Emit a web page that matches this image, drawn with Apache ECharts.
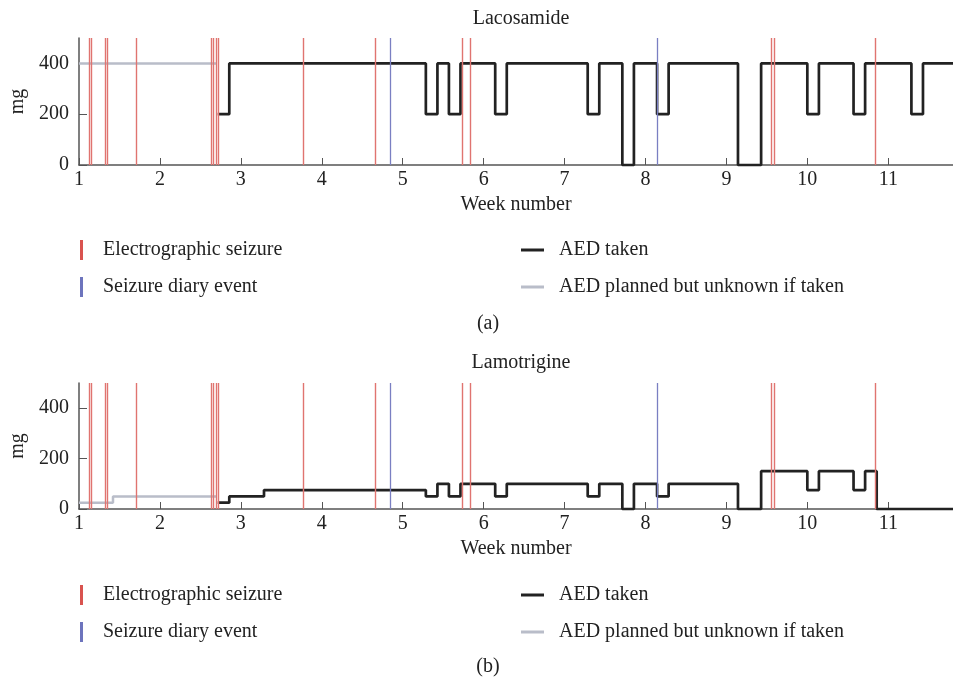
<!DOCTYPE html>
<html>
<head>
<meta charset="utf-8">
<script src="https://cdn.jsdelivr.net/npm/echarts@6/dist/echarts.min.js"></script>
<style>
  html, body { margin: 0; padding: 0; background: #fff; }
  #chart { width: 953px; height: 684px; }
</style>
</head>
<body>
<div id="chart"></div>
<script>
// week ticks / dose ticks
const weekTicks = [1, 2, 3, 4, 5, 6, 7, 8, 9, 10, 11];
const doseTicks = [0, 200, 400];

// event markers (week number), same in both panels
const seizureWeeks = [1.127, 1.152, 1.32, 1.346, 1.71, 2.638, 2.663, 2.69, 2.716, 3.77, 4.66, 5.737, 5.836, 9.56, 9.585, 10.84];
const diaryWeeks = [4.848, 8.14];

// Lacosamide: change points and dose held from that point
const lacTakenWeeks = [2.714, 2.857, 5.286, 5.429, 5.571, 5.714, 6.143, 6.286, 7.286, 7.429, 7.714, 7.857, 8.143, 8.286, 9.143, 9.429, 10.0, 10.143, 10.571, 10.714, 11.286, 11.429, 11.8];
const lacTakenDose  = [200,   400,   200,   400,   200,   400,   200,   400,   200,   400,   0,     400,   200,   400,   0,     400,   200,  400,    200,    400,    200,    400,    400];
const lacPlannedWeeks = [1, 2.7];
const lacPlannedDose  = [400, 400];

// Lamotrigine
const lamTakenWeeks = [2.714, 2.857, 3.286, 5.286, 5.429, 5.571, 5.714, 6.143, 6.286, 7.286, 7.429, 7.714, 7.857, 8.143, 8.286, 9.143, 9.429, 10.0, 10.143, 10.571, 10.714, 10.857, 11.8];
const lamTakenDose  = [25,    50,    75,    50,    100,   50,    100,   50,    100,   50,    100,   0,     100,   50,    100,   0,     150,   75,   150,    75,     150,    0,      0];
const lamPlannedWeeks = [1, 1.42, 2.7];
const lamPlannedDose  = [25, 50, 50];

const FONT = 'Liberation Serif';
const TXT = '#222';
const RED = '#e07470';
const BLUE = '#7a7fc2';
const BLACK = '#222';
const GREY = '#b9bdc9';

const zip = (xs, ys) => xs.map((x, i) => [x, ys[i]]);

const panels = [
  { top: 38, height: 127, taken: zip(lacTakenWeeks, lacTakenDose), planned: zip(lacPlannedWeeks, lacPlannedDose) },
  { top: 383, height: 126, taken: zip(lamTakenWeeks, lamTakenDose), planned: zip(lamPlannedWeeks, lamPlannedDose) }
];

const grid = panels.map(p => ({ left: 79, right: 0, top: p.top, height: p.height }));

const xAxis = panels.map((p, i) => ({
  type: 'value', gridIndex: i, min: 1, max: 11.8,
  name: 'Week number', nameLocation: 'middle', nameGap: 30,
  nameTextStyle: { fontFamily: FONT, fontSize: 20, color: TXT },
  axisLine: { lineStyle: { color: '#555', width: 1.5 } },
  axisTick: { inside: true, length: 7, lineStyle: { color: '#555' }, customValues: weekTicks },
  axisLabel: { fontFamily: FONT, fontSize: 20, color: TXT, margin: 5, customValues: weekTicks },
  splitLine: { show: false }
}));

const yAxis = panels.map((p, i) => ({
  type: 'value', gridIndex: i, min: 0, max: 500,
  name: 'mg', nameLocation: 'middle', nameGap: 50,
  nameTextStyle: { fontFamily: FONT, fontSize: 20, color: TXT },
  axisLine: { show: true, lineStyle: { color: '#555', width: 1.5 } },
  axisTick: { inside: true, length: 8, lineStyle: { color: '#555' }, customValues: doseTicks },
  axisLabel: { fontFamily: FONT, fontSize: 20, color: TXT, margin: 10, customValues: doseTicks },
  splitLine: { show: false }
}));

const series = [];
panels.forEach((p, i) => {
  series.push({
    name: 'Electrographic seizure', type: 'line', xAxisIndex: i, yAxisIndex: i, data: [],
    color: RED,
    markLine: {
      silent: true, symbol: 'none', label: { show: false },
      lineStyle: { color: RED, width: 1.4, type: 'solid', opacity: 1 },
      data: seizureWeeks.map(w => ({ xAxis: w }))
    }
  });
  series.push({
    name: 'Seizure diary event', type: 'line', xAxisIndex: i, yAxisIndex: i, data: [],
    color: BLUE,
    markLine: {
      silent: true, symbol: 'none', label: { show: false },
      lineStyle: { color: BLUE, width: 1.3, type: 'solid', opacity: 1 },
      data: diaryWeeks.map(w => ({ xAxis: w }))
    }
  });
  series.push({
    name: 'AED planned but unknown if taken', type: 'line', xAxisIndex: i, yAxisIndex: i,
    step: 'end', showSymbol: false, clip: false, color: GREY,
    lineStyle: { color: GREY, width: 2.5 },
    data: p.planned
  });
  series.push({
    name: 'AED taken', type: 'line', xAxisIndex: i, yAxisIndex: i,
    step: 'end', showSymbol: false, clip: false, color: BLACK,
    lineStyle: { color: BLACK, width: 2.7 },
    data: p.taken, z: 3
  });
});

const legendText = { fontFamily: FONT, fontSize: 20, color: TXT, padding: [0, 0, 0, 15] };
const legendItems = [
  { name: 'Electrographic seizure', left: 80, dy: 0, color: '#d9534f', w: 3, h: 20 },
  { name: 'Seizure diary event', left: 80, dy: 37, color: '#6d74bd', w: 3, h: 20 },
  { name: 'AED taken', left: 521, dy: 0, color: BLACK, w: 23, h: 3 },
  { name: 'AED planned but unknown if taken', left: 521, dy: 37, color: GREY, w: 23, h: 3 }
];
const legend = [];
[240, 585].forEach(base => {
  legendItems.forEach(it => {
    legend.push({
      left: it.left, top: base + it.dy, padding: 0, selectedMode: false,
      icon: 'rect', itemWidth: it.w, itemHeight: it.h,
      textStyle: it.w < 10 ? legendText : Object.assign({}, legendText, { padding: [0, 0, 0, 10] }),
      data: [{ name: it.name, itemStyle: { color: it.color } }]
    });
  });
});

const titleStyle = { fontFamily: FONT, fontSize: 20, fontWeight: 'normal', color: TXT };
const title = [
  { text: 'Lacosamide', left: 516, top: 4, textAlign: 'center', textStyle: titleStyle },
  { text: '(a)', left: 483, top: 309, textAlign: 'center', textStyle: titleStyle },
  { text: 'Lamotrigine', left: 516, top: 348, textAlign: 'center', textStyle: titleStyle },
  { text: '(b)', left: 483, top: 652, textAlign: 'center', textStyle: titleStyle }
];

const chart = echarts.init(document.getElementById('chart'));
chart.setOption({
  animation: false,
  backgroundColor: '#fff',
  title, grid, xAxis, yAxis, legend, series
});
</script>
</body>
</html>
